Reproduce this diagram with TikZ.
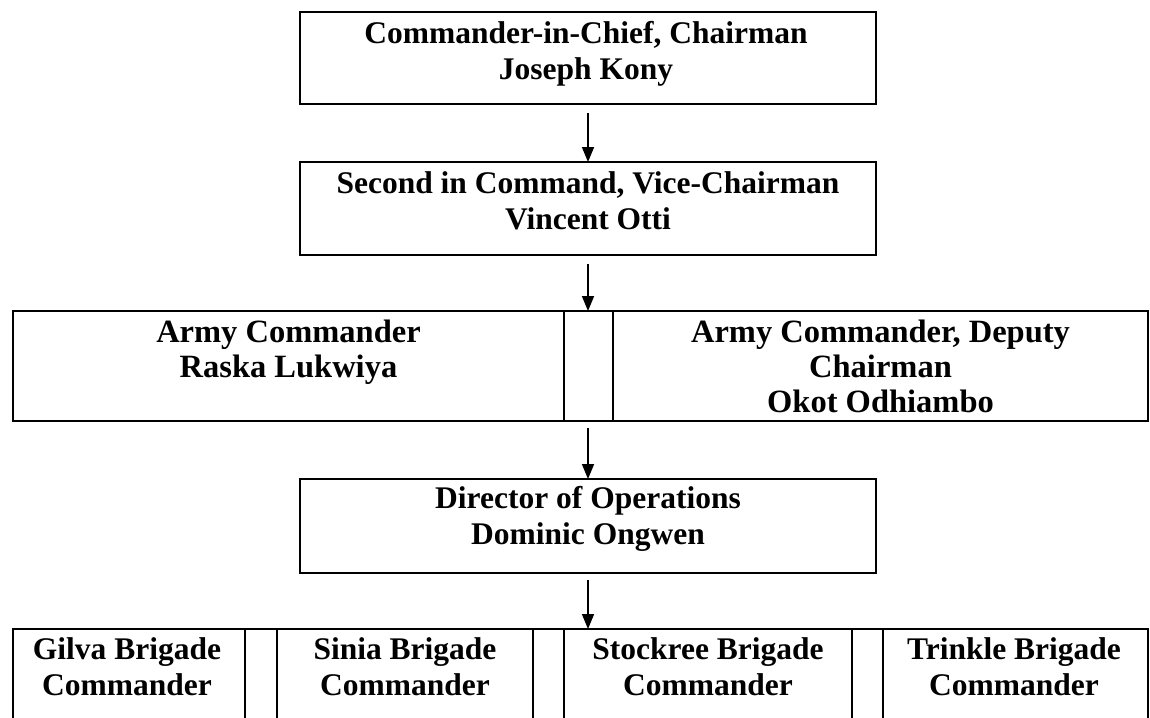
\documentclass[tikz,border=0pt]{standalone}
\usepackage{fontspec}
\setmainfont{Liberation Serif}
\usetikzlibrary{arrows.meta}
\tikzset{
  cell/.style={draw, line width=2.4pt, anchor=north west, inner sep=0pt, outer sep=0pt},
  gapcell/.style={draw, line width=1.6pt, anchor=north west, inner sep=0pt, outer sep=0pt},
  lbl/.style={anchor=north, inner sep=0pt, align=center, font=\bfseries\fontsize{31.5}{36.5}\selectfont},
  lblb/.style={lbl, font=\bfseries\fontsize{32.5}{35}\selectfont},
  conn/.style={line width=1.6pt, -{Triangle[length=15pt,width=12pt]}}
}
\begin{document}
\begin{tikzpicture}[x=1pt,y=-1pt]
\useasboundingbox (0,0) rectangle (1150,717);
\clip (0,0) rectangle (1150,717);
% top box
\node[cell, minimum width=576pt, minimum height=92pt] (ceo) at (300,12) {};
\node[lbl] (ceot) at (586,21) {Commander-in-Chief, Chairman\\Joseph Kony};
% second box
\node[cell, minimum width=576pt, minimum height=93pt] (vice) at (300,162) {};
\node[lbl] (vicet) at (588,171) {Second in Command, Vice-Chairman\\Vincent Otti};
% row 3
\node[cell, minimum width=551pt, minimum height=110pt] (armyl) at (13,311) {};
\node[gapcell, minimum width=49pt, minimum height=110pt] (armym) at (564,311) {};
\node[cell, minimum width=535pt, minimum height=110pt] (armyr) at (613,311) {};
\node[lblb] (armylt) at (288.5,320) {Army Commander\\Raska Lukwiya};
\node[lblb] (armyrt) at (880.5,320) {Army Commander, Deputy\\Chairman\\Okot Odhiambo};
% director
\node[cell, minimum width=576pt, minimum height=94pt] (dir) at (300,479) {};
\node[lbl] (dirt) at (588,486) {Director of Operations\\Dominic Ongwen};
% bottom row
\node[cell, minimum width=232pt, minimum height=100pt] (b1) at (13,629) {};
\node[gapcell, minimum width=32pt, minimum height=100pt] (g1) at (245,629) {};
\node[cell, minimum width=256pt, minimum height=100pt] (b2) at (277,629) {};
\node[gapcell, minimum width=31pt, minimum height=100pt] (g2) at (533,629) {};
\node[cell, minimum width=288pt, minimum height=100pt] (b3) at (564,629) {};
\node[gapcell, minimum width=31pt, minimum height=100pt] (g3) at (852,629) {};
\node[cell, minimum width=265pt, minimum height=100pt] (b4) at (883,629) {};
\node[lbl] (b1t) at (127,637) {Gilva Brigade\\Commander};
\node[lbl] (b2t) at (405,637) {Sinia Brigade\\Commander};
\node[lbl] (b3t) at (708,637) {Stockree Brigade\\Commander};
\node[lbl] (b4t) at (1014,637) {Trinkle Brigade\\Commander};
% connectors
\coordinate (a1s) at (588,113);
\coordinate (a1e) at (588,162);
\draw[conn] (a1s) -- (a1e);
\coordinate (a2s) at (588,264);
\coordinate (a2e) at (588,311);
\draw[conn] (a2s) -- (a2e);
\coordinate (a3s) at (588,428);
\coordinate (a3e) at (588,479);
\draw[conn] (a3s) -- (a3e);
\coordinate (a4s) at (588,580);
\coordinate (a4e) at (588,629);
\draw[conn] (a4s) -- (a4e);
\end{tikzpicture}
\end{document}
